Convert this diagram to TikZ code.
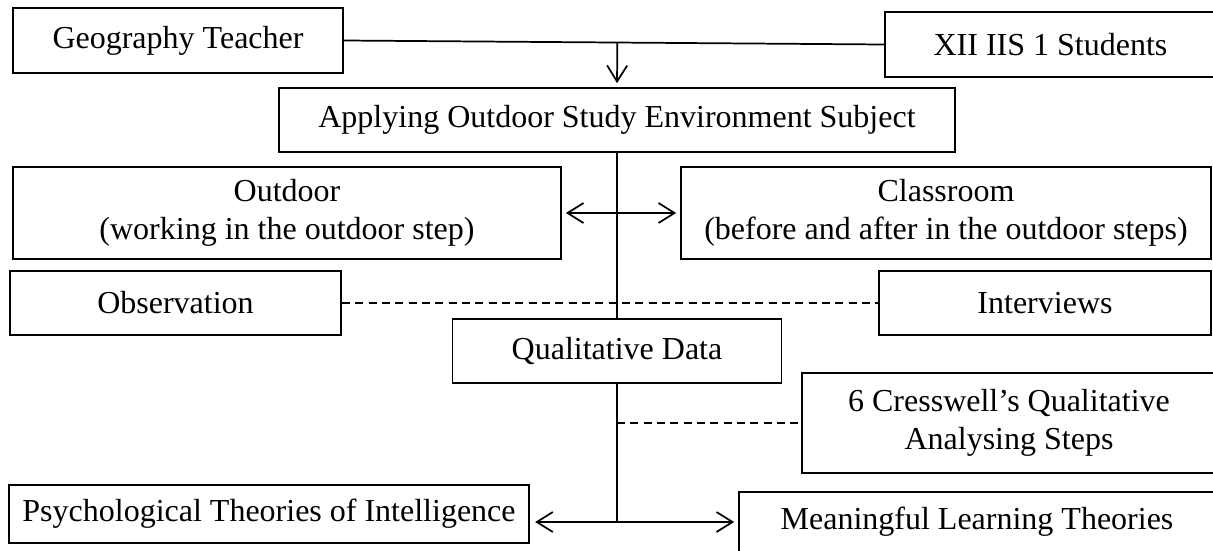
\documentclass[tikz,border=0pt]{standalone}
\usepackage{fontspec}
\setmainfont{Liberation Serif}
\usetikzlibrary{calc,arrows.meta}
\tikzset{>={Straight Barb[length=12pt,width=15pt]}}
\tikzset{
  blk/.style={draw,line width=1.3pt,inner sep=0pt,align=center,font=\fontsize{24pt}{28.5pt}\selectfont},
  sz/.style 2 args={minimum width=#1*0.75pt,minimum height=#2*0.75pt},
  link/.style={line width=1.3pt},
  dot/.style={line width=1.3pt,dash pattern=on 6pt off 4pt}
}

\begin{document}
\begin{tikzpicture}[x=0.75pt,y=-0.75pt]
\clip (0,0) rectangle (1213,550);
\node[blk,sz={330}{65}] (geo) at (178,40.5) {Geography Teacher};
\node[blk,sz={331}{65}] (stu) at (1050.5,44.5) {XII IIS 1 Students};
\node[blk,sz={676}{64}] (app) at (617,120) {Applying Outdoor Study Environment Subject};
\node[blk,sz={548}{92}] (out) at (287,213) {Outdoor\\(working in the outdoor step)};
\node[blk,sz={530}{92}] (cls) at (946,213) {Classroom\\(before and after in the outdoor steps)};
\node[blk,sz={331}{64}] (obs) at (175.5,303) {Observation};
\node[blk,sz={332}{64}] (int) at (1045,303) {Interviews};
\node[blk,sz={329}{64}] (qual) at (617,351) {Qualitative Data};
\node[blk,sz={414}{100}] (crw) at (1009,423) {6 Cresswell’s Qualitative\\Analysing Steps};
\node[blk,sz={520}{58}] (psy) at (269,514) {Psychological Theories of Intelligence};
\node[blk,sz={476}{60}] (mlt) at (977,522) {Meaningful Learning Theories};

\draw[link] (geo.east) -- (stu.west);
\draw[link,->,shorten >=3pt] ($(geo.east)!(app.north)!(stu.west)$) -- (app.north);
\draw[link] (app.south) -- (qual.north);
\draw[link,<->,shorten <=3pt,shorten >=3pt] (out.east) -- (cls.west);
\draw[dot] (obs.east) -- (int.west);
\draw[link] (qual.south) -- (qual.south |- mlt.west);
\draw[dot] (qual.south |- crw.west) -- (crw.west);
\draw[link,<->,shorten <=4pt,shorten >=3pt] (psy.east |- mlt.west) -- (mlt.west);
\end{tikzpicture}
\end{document}
